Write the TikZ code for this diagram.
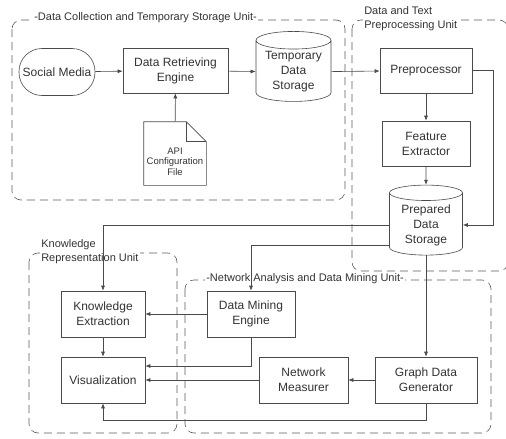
\documentclass[tikz,border=0pt]{standalone}
\usepackage{fontspec}
\setmainfont{Liberation Sans}
\usetikzlibrary{shapes.geometric,arrows.meta}
\definecolor{linegray}{HTML}{4A4A4A}
\definecolor{unitgray}{HTML}{5A5A5A}
\definecolor{textgray}{HTML}{333333}
\def\drawunit{\draw[unit]}
\def\drawflow{\draw[flow]}
\def\procnode{\node[proc]}
\def\storenode{\node[store]}

\begin{document}
\begin{tikzpicture}[x=1pt,y=-1pt,line width=0.6pt,
  proc/.style={draw=linegray,fill=white,text=textgray,align=center,minimum height=46pt,inner sep=2pt,font=\fontsize{12}{15}\selectfont},
  store/.style={cylinder,shape border rotate=90,aspect=0.3,draw=linegray,fill=white,text=textgray,align=center,minimum width=75pt,minimum height=70pt,inner sep=1pt,font=\fontsize{12}{15}\selectfont},
  flow/.style={draw=linegray,-{Latex[length=5pt,width=4pt]}},
  unit/.style={draw=unitgray,dash pattern=on 8pt off 5pt,rounded corners=9pt},
  unitlabel/.style={fill=white,text=textgray,anchor=west,align=left,inner sep=1pt,font=\fontsize{11}{14}\selectfont}]
\useasboundingbox (0,0) rectangle (506,439);

% units
\drawunit (12,20) rectangle (345,200);
\drawunit (352,20) rectangle (508,271);
\drawunit (29,253) rectangle (177,433);
\drawunit (185,280) rectangle (491,433);
\node[unitlabel] (collectlabel) at (33,18) {-Data Collection and Temporary Storage Unit-};
\node[unitlabel] (preplabel) at (363,19) {Data and Text\\Preprocessing Unit};
\node[unitlabel] (knowlabel) at (40,252) {Knowledge\\Representation Unit};
\node[unitlabel] (netlabel) at (205,279) {-Network Analysis and Data Mining Unit-};

% collection
\procnode[rounded corners=23pt,minimum width=76pt,minimum height=47pt] (social) at (57,72) {Social Media};
\procnode[minimum width=105pt,minimum height=45pt] (engine) at (175.5,70.5) {Data Retrieving\\Engine};
\storenode (temp) at (293.5,72) {Temporary\\Data\\Storage};
\node[minimum width=62pt,minimum height=63pt,inner sep=0pt] (api) at (175,153.5) {};
\draw[linegray] (api.north west) -- ([xshift=-20pt]api.north east) -- ([yshift=-20pt]api.north east) -- (api.south east) -- (api.south west) -- cycle;
\draw[linegray] ([xshift=-20pt]api.north east) |- ([yshift=-20pt]api.north east);
\node[text=textgray,align=center,font=\fontsize{9.5}{10.5}\selectfont] (apitext) at ([yshift=-8pt]api.center) {API\\Configuration\\File};

% preprocessing
\procnode[minimum width=92pt,minimum height=45pt] (prep) at (426,70.5) {Preprocessor};
\procnode[minimum width=88pt,minimum height=45pt] (feat) at (426,143.5) {Feature\\Extractor};
\storenode[minimum width=73pt] (prepared) at (426,225) {Prepared\\Data\\Storage};

% knowledge and network
\procnode[minimum width=84pt] (know) at (103,314) {Knowledge\\Extraction};
\procnode[minimum width=84pt] (vis) at (103,380) {Visualization};
\procnode[minimum width=88pt] (mining) at (251,314) {Data Mining\\Engine};
\procnode[minimum width=89pt] (measure) at (303.5,380) {Network\\Measurer};
\procnode[minimum width=102pt] (graph) at (426,380) {Graph Data\\Generator};

% flows
\drawflow (social) -- (engine);
\drawflow (engine) -- (temp);
\drawflow (api) -- (engine);
\drawflow (temp) -- (prep);
\drawflow (prep) -- (feat);
\drawflow (feat) -- (prepared);
\drawflow (prep.east) -- ++(21,0) |- (prepared.0);
\drawflow (prepared.180) -| (know.north);
\drawflow ([yshift=-20pt]prepared.180) -| (mining.north);
\drawflow (prepared.270) -- (graph.north);
\drawflow (mining) -- (know);
\drawflow (know) -- (vis);
\drawflow (mining.south) |- ([yshift=14pt]vis.east);
\drawflow (measure) -- (vis);
\drawflow (graph) -- (measure);
\drawflow (graph.south) -- ++(0,17) -| (vis.south);
\end{tikzpicture}
\end{document}
